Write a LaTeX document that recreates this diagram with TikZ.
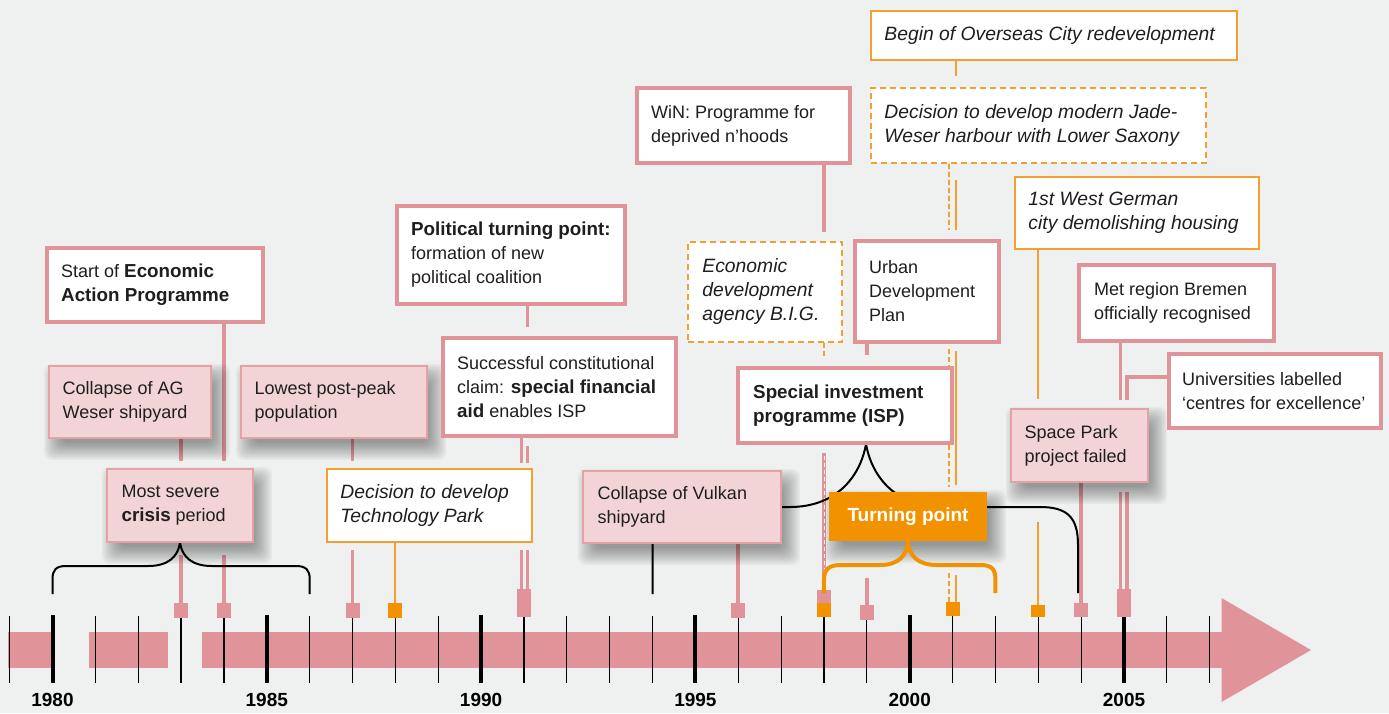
\documentclass[tikz,border=0pt]{standalone}
\usepackage{fontspec}
\setmainfont{Liberation Sans}

\definecolor{bgc}{HTML}{EFF1F0}
\definecolor{rose}{HTML}{E1939A}
\definecolor{rosefill}{HTML}{F2D4D6}
\definecolor{roseedge}{HTML}{E4A2A7}
\definecolor{amber}{HTML}{F39200}
\definecolor{amberline}{HTML}{F4A030}
\definecolor{ink}{HTML}{1E1E1E}

\newcommand\rgfont{\fontsize{18}{24}\selectfont}
\newcommand\itfont{\fontsize{19.3}{24}\selectfont\itshape}
\newcommand\hb[1]{{\fontsize{18.8}{24}\selectfont\bfseries #1}}

\pgfdeclarelayer{back}
\pgfdeclarelayer{links}
\pgfsetlayers{back,links,main}

\tikzset{
  evframe/.style={draw=rose, line width=4pt, fill=white, inner sep=0pt},
  evfill/.style={draw=roseedge, line width=1.2pt, fill=rosefill, inner sep=0pt},
  evplan/.style={draw=amberline, line width=1.5pt, fill=white, inner sep=0pt},
  evidea/.style={draw=amberline, line width=1.5pt, dash pattern=on 6pt off 4pt,
      fill=white, inner sep=0pt},
  lbl/.style={inner sep=0pt, align=left, font=\rgfont, text=ink},
  ilbl/.style={lbl, font=\itfont},
  blbl/.style={lbl, font=\fontsize{18.8}{24}\selectfont\bfseries},
  pmark/.style={fill=rose, inner sep=0pt, minimum width=14pt, minimum height=15pt},
  omark/.style={pmark, fill=amber},
  plink/.style={draw=rose, line width=3.6pt, line join=miter},
  olink/.style={draw=amberline, line width=1.9pt},
  odash/.style={olink, dash pattern=on 5pt off 3pt},
  brace/.style={draw=black, line width=2pt},
  obrace/.style={draw=amber, line width=4pt},
  yrlbl/.style={font=\fontsize{19}{22}\selectfont\bfseries, text=black, inner sep=0pt},
}

% soft drop shadow below a box given by its corners
\newcommand\softshadow[4]{%
  \foreach \r in {1,...,12}{%
    \pgfmathsetmacro\sp{-7+1.6*\r}%
    \fill[black, opacity=0.035, rounded corners=8pt]
      ({#1+7-\sp},{#2+10-\sp}) rectangle ({#3+7+\sp},{#4+10+\sp});%
  }%
}

% event box: name, x1, y1, x2, y2, box style, text style, left inset, text
\newcommand\evbox[9]{%
  \pgfmathsetmacro\evW{#4-#2}%
  \pgfmathsetmacro\evH{#5-#3}%
  \pgfmathsetmacro\evX{(#2+#4)/2}%
  \pgfmathsetmacro\evY{(#3+#5)/2}%
  \node[#6, minimum width=\evW pt, minimum height=\evH pt] (#1) at (\evX,\evY) {};%
  \node[#7, anchor=west] (#1-txt) at ([xshift=#8pt]#1.west) {#9};%
}

\begin{document}
\begin{tikzpicture}[x=1pt,y=-1pt]
\useasboundingbox (0,0) rectangle (1389,713);
\begin{pgfonlayer}{back}
  \fill[bgc] (0,0) rectangle (1389,713);
\end{pgfonlayer}

% ---- time axis ----
\fill[rose] (7.6,632) rectangle (52,668);
\fill[rose] (89.3,632) rectangle (168.3,668);
\fill[rose] (201.8,632) rectangle (1222,668);
\fill[rose] (1221.5,598) -- (1311,650) -- (1221.5,702) -- cycle;
\foreach \i in {0,...,28}
  \draw[line width=1.2pt] ({9.64+42.86*\i},616) -- ++(0,67);
\foreach \i in {1,6,11,16,21,26}
  \draw[line width=4pt] ({9.64+42.86*\i},615) -- ++(0,68);
\foreach \yr [count=\k from 0] in {1980,1985,1990,1995,2000,2005}
  \node[yrlbl] (yr\yr) at ({52.5+214.3*\k},700) {\yr};

% ---- year markers ----
\node[pmark] (m83) at (181.08,610.5) {};
\node[pmark] (m84) at (223.94,610.5) {};
\node[pmark] (m87) at (352.52,610.5) {};
\node[omark] (m88) at (395.38,610.5) {};
\node[pmark, minimum height=28pt] (m91) at (523.96,603) {};
\node[pmark] (m96) at (738.26,610.5) {};
\node[pmark, minimum height=13pt] (m98p) at (823.98,596.5) {};
\node[omark, minimum height=14pt] (m98o) at (823.98,610) {};
\node[pmark] (m99) at (866.84,612.5) {};
\node[omark, minimum height=14pt] (m01) at (952.56,609) {};
\node[omark, minimum height=12pt] (m03) at (1038.28,611) {};
\node[pmark, minimum height=14pt] (m04) at (1081.14,610) {};
\node[pmark, minimum height=28pt] (m05) at (1124,603) {};

\coordinate (x91a) at (521.5,0);
\coordinate (x91b) at (527.5,0);
\coordinate (x01a) at (949,0);
\coordinate (x01b) at (956,0);
\coordinate (x05a) at (1120.5,0);
\coordinate (x05b) at (1127,0);

% ---- shadows of the filled boxes ----
\softshadow{49}{366}{211}{438}
\softshadow{241}{366}{427}{438}
\softshadow{107}{469}{253}{542}
\softshadow{583}{471}{781}{543}
\softshadow{1011}{409}{1148}{482}
\softshadow{829}{492}{987}{541}

% ---- event boxes ----
\evbox{eap}{47}{248}{263}{322}{evframe}{lbl}{16}{Start of \hb{Economic}\\\hb{Action Programme}}
\evbox{agw}{49}{366}{211}{438}{evfill}{lbl}{14}{Collapse of AG\\Weser shipyard}
\evbox{low}{241}{366}{427}{438}{evfill}{lbl}{14}{Lowest post-peak\\population}
\evbox{ptp}{397}{206}{625}{304}{evframe}{lbl}{16}{\hb{Political turning point:}\\formation of new\\political coalition}
\evbox{con}{443}{338}{676}{436}{evframe}{lbl}{16}{Successful constitutional\\claim: \hb{special financial}\\\hb{aid} enables ISP}
\evbox{cri}{107}{469}{253}{542}{evfill}{lbl}{15}{Most severe\\\hb{crisis} period}
\evbox{tec}{327}{469}{532}{542}{evplan}{ilbl}{14}{Decision to develop\\Technology Park}
\evbox{vul}{583}{471}{781}{543}{evfill}{lbl}{15}{Collapse of Vulkan\\shipyard}
\evbox{win}{637}{88}{850}{163}{evframe}{lbl}{16}{WiN: Programme for\\deprived n’hoods}
\evbox{big}{688}{242}{842}{342}{evidea}{ilbl}{15}{Economic\\development\\agency B.I.G.}
\evbox{udp}{855}{241}{999}{342}{evframe}{lbl}{16}{Urban\\Development\\Plan}
\evbox{isp}{738}{368}{952}{443}{evframe}{blbl}{17}{Special investment\\programme (ISP)}
\evbox{ovs}{871}{11}{1237}{60}{evplan}{ilbl}{14}{Begin of Overseas City redevelopment}
\evbox{jws}{871}{88}{1206}{163}{evidea}{ilbl}{14}{Decision to develop modern Jade-\\Weser harbour with Lower Saxony}
\evbox{wgc}{1015}{177}{1259}{249}{evplan}{ilbl}{14}{1st West German\\city demolishing housing}
\evbox{met}{1079}{265}{1274}{341}{evframe}{lbl}{17}{Met region Bremen\\officially recognised}
\evbox{uni}{1169}{354}{1381}{428}{evframe}{lbl}{15}{Universities labelled\\‘centres for excellence’}
\evbox{spk}{1011}{409}{1148}{482}{evfill}{lbl}{14}{Space Park\\project failed}

\node[fill=amber, inner sep=0pt, minimum width=158pt, minimum height=49pt,
      font=\fontsize{19}{22}\selectfont\bfseries, text=white] (tp) at (908,516.5) {Turning point};

% orange brace under the turning point
\draw[obrace] (823.98,593) -- (823.98,580) .. controls (823.98,569) and (829,565) .. (841,565)
  -- (880,565) .. controls (898,565) and (907,556) .. (tp.south)
  .. controls (909,556) and (918,565) .. (937,565) -- (980,565)
  .. controls (992,565) and (995.4,569) .. (995.4,580) -- (995.4,593);

% ---- connectors and period braces, behind the boxes ----
\begin{pgfonlayer}{links}
  % pink event lines
  \draw[plink] (m84 |- eap.south) -- (m84 |- 0,461);
  \draw[plink] (m84 |- 0,555) -- (m84.north);
  \draw[plink] (m83 |- agw.south) -- (m83 |- 0,461);
  \draw[plink] (m83 |- 0,555) -- (m83.north);
  \draw[plink] (m87 |- low.south) -- (m87 |- 0,461);
  \draw[plink] (m87 |- 0,550) -- (m87.north);
  \draw[plink] (x91b |- ptp.south) -- (x91b |- 0,327);
  \draw[plink] (x91b |- 0,446) -- (x91b |- 0,463);
  \draw[plink] (x91b |- 0,550) -- (x91b |- m91.north);
  \draw[plink] (x91a |- con.south) -- (x91a |- 0,463);
  \draw[plink] (x91a |- 0,550) -- (x91a |- m91.north);
  \draw[plink] (m96 |- vul.south) -- (m96.north);
  \draw[plink] (m98p |- win.south) -- (m98p |- 0,232);
  \draw[plink] (m98p |- 0,453) -- (m98p.north);
  \draw[white, line width=0.8pt, dash pattern=on 4pt off 3pt] (m98p |- 0,456) -- (m98p.north);
  \draw[plink] (m99 |- udp.south) -- (m99 |- 0,355);
  \draw[plink] (m99 |- 0,578) -- (m99.north);
  \draw[plink] (m04 |- spk.south) -- (m04.north);
  \draw[plink] (x05a |- met.south) -- (x05a |- 0,400);
  \draw[plink] (x05a |- 0,492) -- (x05a |- m05.north);
  \draw[plink] (uni.west |- 0,377) -- (x05b |- 0,377) -- (x05b |- 0,400);
  \draw[plink] (x05b |- 0,492) -- (x05b |- m05.north);
  % orange plan lines
  \draw[olink] (m88 |- tec.south) -- (m88.north);
  \draw[odash] (m98o |- big.south) -- (m98o |- 0,357);
  \draw[odash] (x01a |- jws.south) -- (x01a |- 0,230);
  \draw[odash] (x01a |- 0,349) -- (x01a |- 0,487);
  \draw[odash] (x01a |- 0,573) -- (x01a |- m01.north);
  \draw[olink] (x01b |- ovs.south) -- (x01b |- 0,76);
  \draw[olink] (x01b |- 0,180) -- (x01b |- 0,230);
  \draw[olink] (x01b |- 0,351) -- (x01b |- 0,485);
  \draw[olink] (x01b |- 0,575) -- (x01b |- m01.north);
  \draw[olink] (m03 |- wgc.south) -- (m03 |- 0,399);
  \draw[olink] (m03 |- 0,522) -- (m03.north);
  % crisis period brace 1980-1986
  \draw[brace] (52.5,594) -- (52.5,579) .. controls (52.5,570) and (56,566) .. (66,566)
    -- (148,566) .. controls (168,566) and (178,557) .. (cri.south)
    .. controls (182,557) and (192,566) .. (212,566) -- (296,566)
    .. controls (306,566) and (309.7,570) .. (309.7,579) -- (309.7,594);
  % ISP brace 1994-2004
  \draw[brace] (652.5,594) -- (652.5,535) .. controls (652.5,515) and (662,507) .. (685,507)
    -- (790,507) .. controls (835,507) and (860,478) .. (866,444)
    .. controls (872,478) and (897,507) .. (942,507) -- (1040,507)
    .. controls (1068,507) and (1078,518) .. (1078,545) -- (1078,593);
\end{pgfonlayer}
\end{tikzpicture}
\end{document}
